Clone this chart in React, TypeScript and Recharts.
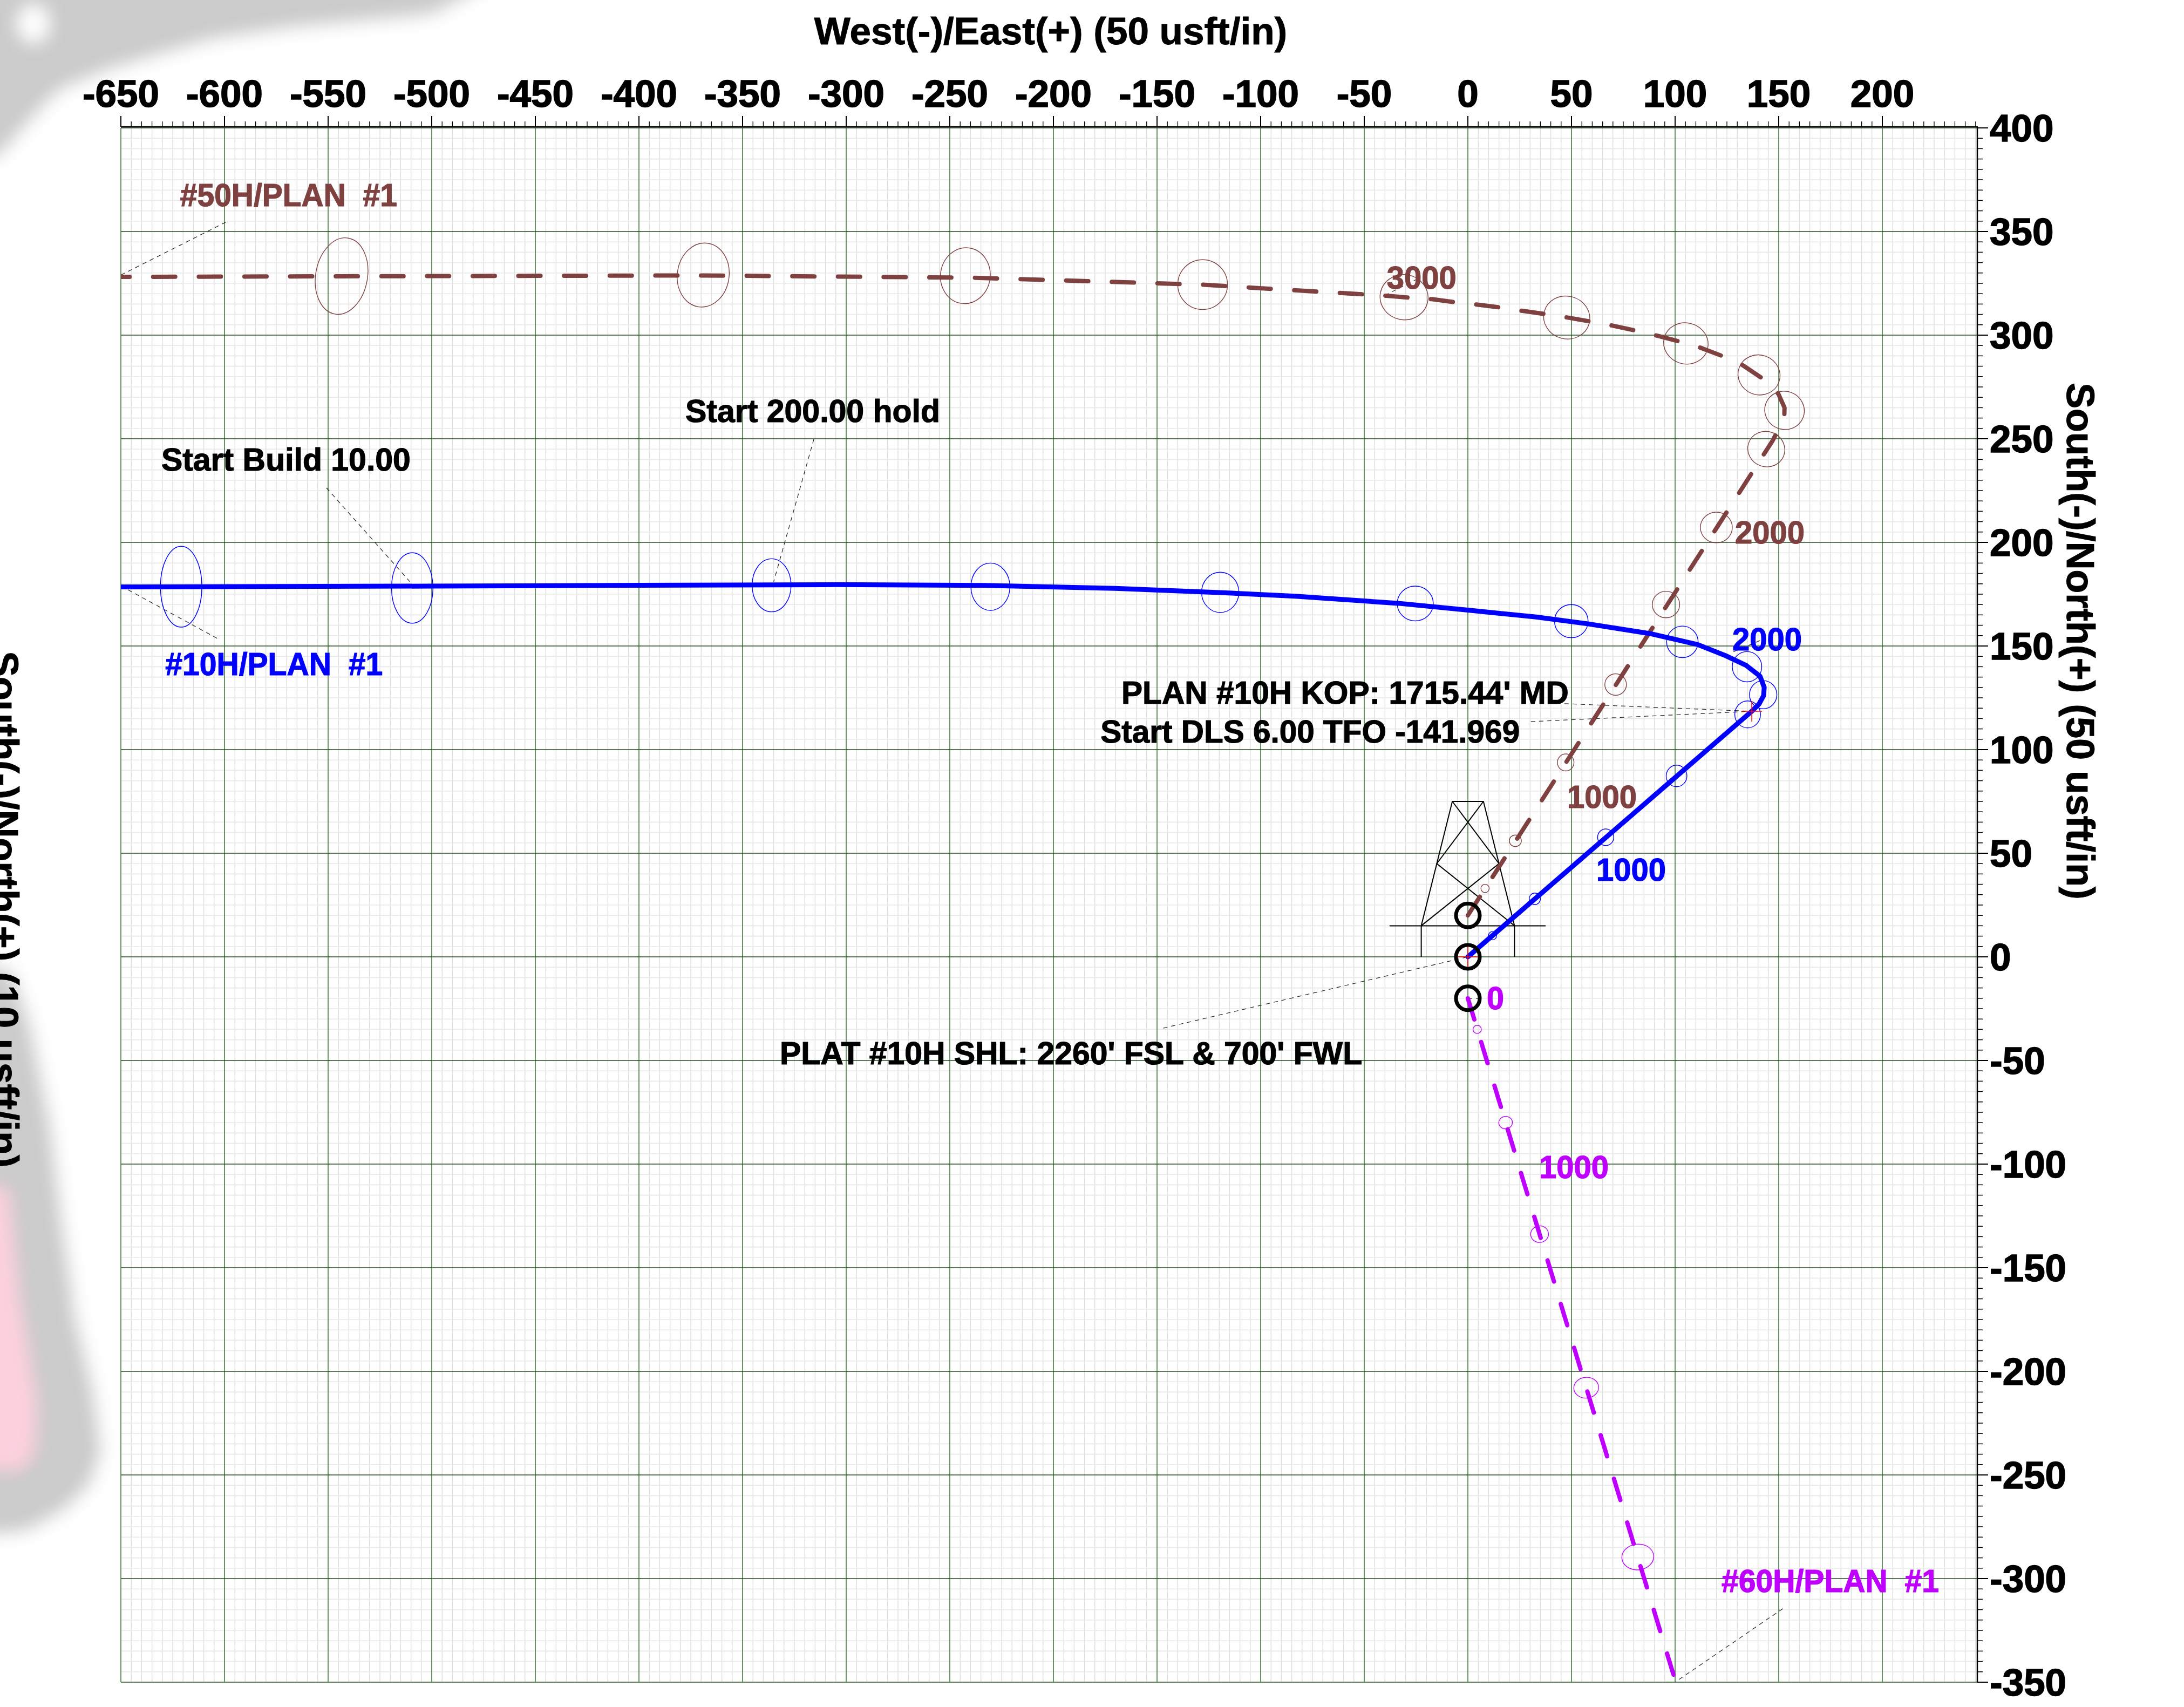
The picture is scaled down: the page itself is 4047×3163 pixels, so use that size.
import React from "react";
import { ComposedChart, XAxis, YAxis, CartesianGrid, Line, Scatter } from "recharts";

// ---------- data (survey values, usft) ----------
const xMajorLabels = [-650, -600, -550, -500, -450, -400, -350, -300, -250, -200, -150, -100, -50, 0, 50, 100, 150, 200];
const yMajorLabels = [400, 350, 300, 250, 200, 150, 100, 50, 0, -50, -100, -150, -200, -250, -300, -350];

const well10H = [[0, 0], [137, 118.5], [140.5, 122], [142.7, 126], [143, 130], [141, 135.4], [134.2, 140.7], [124.2, 145.4], [110.9, 150.7], [87.8, 156], [57.8, 160.7], [32.9, 164], [0, 167.3], [-33.6, 170.6], [-83.3, 174], [-120, 175.8], [-170, 177.8], [-233, 179.2], [-305, 179.6], [-400, 179.3], [-500, 178.9], [-650, 178.5]];
const well50H = [[0, 20], [147, 249], [150.7, 256], [152.7, 261], [152.8, 265], [149.8, 271.7], [142.3, 279], [132.6, 285.5], [123.6, 289.6], [112.4, 293.9], [102.6, 296.8], [91.5, 299.7], [81.8, 302], [69.8, 304.6], [60, 306.4], [48.1, 308.5], [38.4, 310], [26.4, 311.7], [16.8, 313.2], [4.7, 314.7], [-5.7, 315.8], [-16.9, 317.3], [-27.4, 318], [-39.3, 319], [-129, 324.4], [-238, 327.7], [-369, 328.8], [-543.7, 328.4], [-650, 328.1]];
const well60H = [[0, -20], [100, -349]];

// error ellipses: x, y, semi-axis x, semi-axis y, tilt
const ellipses10H = [[-620.9, 178.6, 10, 19.5, 0], [-509.4, 178, 10, 17, 0], [-336, 179.3, 9.4, 12.8, 0], [-230.4, 178.6, 9.4, 11.4, 0], [-119.5, 175.9, 9, 9.7, 0], [-25.4, 170.5, 8.7, 8.4, 0], [49.9, 162, 8.1, 8, 0], [103.5, 152, 7.6, 7.6, 0], [134.7, 140, 7.1, 7.3, 0], [142.5, 126.5, 6.6, 6.8, 0], [135, 117, 6.2, 6.5, 0], [100.7, 87.3, 5, 5.2, 0], [66.5, 57.7, 3.9, 4, 0], [32.3, 28, 2.7, 2.8, 0], [11.9, 10.2, 2, 2, 0]];
const ellipses50H = [[-543.5, 328.5, 12.5, 18.6, 10], [-369, 329, 12.5, 15.5, 8], [-242.5, 328.7, 12, 13.5, 8], [-128, 324.4, 12, 12, 0], [-30.8, 318.3, 11.6, 10.9, 10], [47.7, 308.5, 11.2, 10.3, 15], [105.2, 296, 10.8, 9.9, 15], [140.5, 280.8, 10.2, 9.6, 20], [152.8, 263.7, 9.6, 9.2, 20], [144, 245, 9, 8.5, 20], [119.9, 207.2, 7.7, 7.4, 0], [95.6, 170, 6.6, 6.4, 0], [71.3, 131.4, 5.2, 5.2, 0], [47.2, 93.8, 4, 4.1, 0], [22.9, 56, 2.9, 2.8, 0], [8.3, 33, 2, 2, 0]];
const ellipses60H = [[4.5, -35, 2, 2, 0], [18.2, -80, 3.3, 3, -5], [34.6, -133.8, 4.3, 4, -5], [57.1, -207.9, 6, 5, -5], [82, -289.6, 7.7, 6.2, -5]];

const surfaceLocations = [[0, 20], [0, 0], [0, -20]];
const crossPoints = [[0, 0], [137, 118.5]];

const derrickLines = [
  [[-22.5, 0], [-22.5, 15], [-15, 45], [-7.5, 75], [7.5, 75], [15, 45], [22.5, 15], [22.5, 0]],
  [[-37.8, 15], [37.5, 15]],
  [[-7.5, 75], [15, 45], [-22.5, 15]],
  [[7.5, 75], [-15, 45], [22.5, 15]],
];

const leaderLines = [
  [[-650, 329], [-598.4, 355]],
  [[-550.8, 226.3], [-510.5, 181]],
  [[-315.6, 249.8], [-335, 181]],
  [[-650, 179], [-603.4, 153.6]],
  [[140.9, 152.6], [127.6, 147]],
  [[38.8, 122.5], [137, 118.5]],
  [[30.4, 113.5], [137, 118.5]],
  [[-147, -34.4], [0, 0]],
  [[152, -314.5], [100, -350]],
  [[-40.1, 319.2], [-25.2, 326.7]],
  [[0, -20], [5, -20]],
];

const annotationTexts = ["#50H/PLAN  #1", "Start Build 10.00", "Start 200.00 hold", "#10H/PLAN  #1", "2000", "PLAN #10H KOP: 1715.44' MD", "Start DLS 6.00 TFO -141.969", "1000", "1000", "0", "PLAT #10H SHL: 2260' FSL & 700' FWL", "1000", "3000", "2000", "#60H/PLAN  #1"];
const annotationAnchors = [[-621.4, 362.2], [-630.5, 234.6], [-377.6, 258.1], [-628.6, 135.9], [127.6, 148], [-167.2, 122.1], [-177.3, 103.5], [47.9, 71.9], [62, 36.7], [9.1, -25.3], [-332, -51.8], [34.4, -106.8], [-39.1, 322.4], [128.9, 199.5], [122.4, -306.5]];

// ---------- styles / layout ----------
const BLUE = "#0000ff";
const BROWN = "#7f4040";
const PURPLE = "#bf00ff";
const annotationColors = [BROWN, "#000", "#000", BLUE, BLUE, "#000", "#000", BROWN, BLUE, PURPLE, "#000", PURPLE, BROWN, BROWN, PURPLE];
const annotationWidths = [402, 462, 472, 403, 129, 829, 777, 129, 129, 32, 1079, 129, 129, 129, 403];

const W = 4047;
const H = 3163;
const PLOT = { left: 224, right: 3664, top: 237, bottom: 3117 };
const PX = 3.84;
const FONT = "'Liberation Sans', Arial, sans-serif";
const DASH = "41 43.6";

const pts = (rows: number[][]) => rows.map(([x, y]) => ({ x, y }));
const ell = (rows: number[][], color: string) => rows.map(([x, y, rx, ry, tilt]) => ({ x, y, rx, ry, tilt, color }));
const xTicks = Array.from({ length: 180 }, (_, i) => -650 + i * 5);
const yTicks = Array.from({ length: 151 }, (_, i) => 400 - i * 5);
const xMinor = xTicks.filter((v) => v % 50 !== 0);
const yMinor = yTicks.filter((v) => v % 50 !== 0);
const annotations = annotationTexts.map((text, i) => ({
  text,
  x: annotationAnchors[i][0],
  y: annotationAnchors[i][1],
  color: annotationColors[i],
  w: annotationWidths[i],
}));

const XTick = (p: any) => {
  const major = p.payload.value % 50 === 0;
  return (
    <g>
      <line x1={p.x} x2={p.x} y1={major ? 215 : 225} y2={235} stroke="#000" strokeWidth={major ? 2 : 1.3} />
      {major && xMajorLabels.includes(p.payload.value) ? (
        <text x={p.x} y={198} textAnchor="middle" fontFamily={FONT} fontWeight={700} fontSize={71} fill="#000" stroke="#000" strokeWidth={1.5}>
          {p.payload.value}
        </text>
      ) : null}
    </g>
  );
};
const YTick = (p: any) => {
  const major = p.payload.value % 50 === 0;
  return (
    <g>
      <line x1={PLOT.right} x2={PLOT.right + (major ? 20 : 10)} y1={p.y} y2={p.y} stroke="#000" strokeWidth={major ? 2 : 1.5} />
      {major && yMajorLabels.includes(p.payload.value) ? (
        <text x={PLOT.right + 23} y={p.y + 25} textAnchor="start" fontFamily={FONT} fontWeight={700} fontSize={71} fill="#000" stroke="#000" strokeWidth={1.5}>
          {p.payload.value}
        </text>
      ) : null}
    </g>
  );
};

const EllipseMark = (p: any) => {
  const d = p.payload;
  return (
    <ellipse
      cx={p.cx}
      cy={p.cy}
      rx={d.rx * PX}
      ry={d.ry * PX}
      fill="none"
      stroke={d.color}
      strokeWidth={1.4}
      transform={d.tilt ? `rotate(${d.tilt} ${p.cx} ${p.cy})` : undefined}
    />
  );
};
const RingMark = (p: any) => <circle cx={p.cx} cy={p.cy} r={22} fill="none" stroke="#000" strokeWidth={7} />;
const CrossMark = (p: any) => (
  <g stroke="#ff0000" strokeWidth={1.6}>
    <line x1={p.cx - 19} x2={p.cx + 19} y1={p.cy} y2={p.cy} />
    <line x1={p.cx} x2={p.cx} y1={p.cy - 19} y2={p.cy + 19} />
  </g>
);
const TextMark = (p: any) => {
  const d = p.payload;
  return (
    <text
      x={p.cx}
      y={p.cy}
      fill={d.color}
      stroke={d.color}
      strokeWidth={1.2}
      fontFamily={FONT}
      fontWeight={700}
      fontSize={59}
      textLength={d.w}
      lengthAdjust="spacingAndGlyphs"
      style={{ whiteSpace: "pre" }}
    >
      {d.text}
    </text>
  );
};

const lineCommon = { dataKey: "y", dot: false, activeDot: false, isAnimationActive: false, legendType: "none" as const, type: "linear" as const };

const Watermark = () => (
  <svg width={W} height={H} style={{ position: "absolute", left: 0, top: 0 }}>
    <defs>
      <filter id="wm" x="-20%" y="-20%" width="140%" height="140%">
        <feGaussianBlur stdDeviation="16" />
      </filter>
    </defs>
    <g filter="url(#wm)">
      <polygon fill="#cbcbcb" points="-40,-60 960,-60 800,26 540,50 390,72 300,98 200,128 110,165 70,205 30,250 0,285 -40,300" />
      <ellipse cx={62} cy={44} rx={30} ry={36} fill="#ffffff" />
      <polygon fill="#cbcbcb" points="-40,1790 20,1800 55,1900 92,2085 112,2250 138,2440 172,2580 186,2690 165,2750 120,2795 50,2835 -40,2845" />
      <polygon fill="#fdd0de" points="-40,2200 15,2200 35,2400 68,2600 64,2690 40,2725 -40,2720" />
    </g>
  </svg>
);

export default function App() {
  return (
    <div style={{ position: "absolute", left: 0, top: 0, width: W, height: H, overflow: "hidden", background: "#fff" }}>
      <Watermark />
      <div style={{ position: "absolute", left: 0, top: 0 }}>
        <ComposedChart
          width={W}
          height={H}
          margin={{ top: PLOT.top - 1, left: PLOT.left, right: W - PLOT.right - 1, bottom: H - PLOT.bottom }}
        >
          <XAxis
            xAxisId={0}
            dataKey="x"
            type="number"
            orientation="top"
            height={1}
            domain={[-650, 245.83]}
            allowDataOverflow
            ticks={xTicks}
            interval={0}
            tick={<XTick />}
            tickLine={false}
            axisLine={false}
          />
          <YAxis
            yAxisId={0}
            dataKey="y"
            type="number"
            orientation="right"
            width={1}
            domain={[-350, 400]}
            allowDataOverflow
            ticks={yTicks}
            interval={0}
            tick={<YTick />}
            tickLine={false}
            axisLine={false}
          />
          <CartesianGrid horizontal={false} vertical verticalValues={xMinor} stroke="#dedede" strokeWidth={1.4} />
          <CartesianGrid vertical={false} horizontal horizontalValues={yMinor} stroke="#e8e8e8" strokeWidth={1.6} />
          <CartesianGrid horizontal={false} vertical verticalValues={xMajorLabels} stroke="#4f7f4f" strokeWidth={1.7} />
          <CartesianGrid vertical={false} horizontal horizontalValues={yMajorLabels} stroke="#1f4f1f" strokeWidth={1.3} />

          <Scatter data={ell(ellipses10H, BLUE)} shape={<EllipseMark />} isAnimationActive={false} legendType="none" />
          <Scatter data={ell(ellipses50H, BROWN)} shape={<EllipseMark />} isAnimationActive={false} legendType="none" />
          <Scatter data={ell(ellipses60H, PURPLE)} shape={<EllipseMark />} isAnimationActive={false} legendType="none" />

          {derrickLines.map((d, i) => (
            <Line key={`d${i}`} {...lineCommon} data={pts(d)} stroke="#000" strokeWidth={2} />
          ))}
          {leaderLines.map((d, i) => (
            <Line key={`l${i}`} {...lineCommon} data={pts(d)} stroke="#222" strokeWidth={1.2} strokeDasharray="8 7" />
          ))}

          <Scatter data={pts(surfaceLocations)} shape={<RingMark />} isAnimationActive={false} legendType="none" />
          <Scatter data={pts(crossPoints)} shape={<CrossMark />} isAnimationActive={false} legendType="none" />

          <Line {...lineCommon} data={pts(well50H)} stroke={BROWN} strokeWidth={8} strokeDasharray={DASH} strokeLinecap="round" strokeLinejoin="round" />
          <Line {...lineCommon} data={pts(well60H)} stroke={PURPLE} strokeWidth={8} strokeDasharray={DASH} strokeLinecap="round" />
          <Line {...lineCommon} data={pts(well10H)} stroke={BLUE} strokeWidth={9} strokeLinejoin="round" strokeLinecap="round" />

          <Scatter data={annotations} shape={<TextMark />} isAnimationActive={false} legendType="none" />

          <line x1={PLOT.left} x2={PLOT.right + 1} y1={235} y2={235} stroke="#000" strokeWidth={2.5} />
          <line x1={PLOT.right} x2={PLOT.right} y1={235} y2={PLOT.bottom} stroke="#000" strokeWidth={2.5} />
          <text x={1947} y={81.5} textAnchor="middle" fontFamily={FONT} fontWeight={700} fontSize={71} fill="#000" stroke="#000" strokeWidth={1}>
            West(-)/East(+) (50 usft/in)
          </text>
          <text transform="translate(3830 1188) rotate(90)" textAnchor="middle" fontFamily={FONT} fontWeight={700} fontSize={71.7} fill="#000" stroke="#000" strokeWidth={1}>
            South(-)/North(+) (50 usft/in)
          </text>
          <text transform="translate(-17 1685) rotate(90)" textAnchor="middle" fontFamily={FONT} fontWeight={700} fontSize={71.7} fill="#000" stroke="#000" strokeWidth={1}>
            South(-)/North(+) (10 usft/in)
          </text>
        </ComposedChart>
      </div>
    </div>
  );
}
